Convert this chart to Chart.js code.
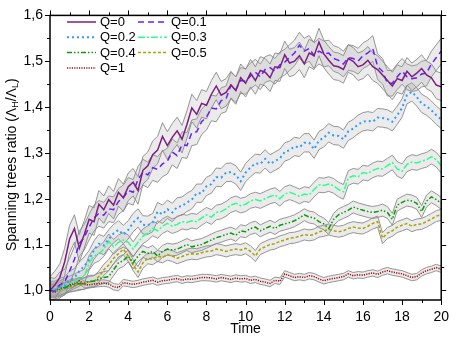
<!DOCTYPE html>
<html>
<head>
<meta charset="utf-8">
<script src="https://cdn.jsdelivr.net/npm/chart.js@4.4.1/dist/chart.umd.min.js"></script>
<style>
  html, body { margin: 0; padding: 0; background: #fff; }
  #wrap { width: 458px; height: 340px; }
</style>
</head>
<body>
<div id="wrap"><canvas id="chart"></canvas></div>
<script>
// time axis (step 0.25)
const time = [
  0, 0.25, 0.5, 0.75, 1, 1.25, 1.5, 1.75, 2, 2.25, 2.5, 2.75, 3, 3.25, 3.5, 3.75,
  4, 4.25, 4.5, 4.75, 5, 5.25, 5.5, 5.75, 6, 6.25, 6.5, 6.75, 7, 7.25, 7.5, 7.75,
  8, 8.25, 8.5, 8.75, 9, 9.25, 9.5, 9.75, 10, 10.25, 10.5, 10.75, 11, 11.25, 11.5, 11.75,
  12, 12.25, 12.5, 12.75, 13, 13.25, 13.5, 13.75, 14, 14.25, 14.5, 14.75, 15, 15.25, 15.5, 15.75,
  16, 16.25, 16.5, 16.75, 17, 17.25, 17.5, 17.75, 18, 18.25, 18.5, 18.75, 19, 19.25, 19.5, 19.75, 20
];

// mean spanning trees ratio per Q
const q0 = [
  1.000, 1.012, 1.028, 1.062, 1.112, 1.135, 1.092, 1.122, 1.155, 1.150, 1.188, 1.176, 1.198, 1.186, 1.214, 1.202,
  1.226, 1.236, 1.218, 1.262, 1.272, 1.296, 1.306, 1.336, 1.316, 1.334, 1.348, 1.330, 1.362, 1.398, 1.384, 1.408,
  1.404, 1.428, 1.446, 1.426, 1.432, 1.448, 1.436, 1.464, 1.452, 1.474, 1.458, 1.480, 1.476, 1.464, 1.488, 1.486,
  1.514, 1.496, 1.500, 1.512, 1.494, 1.518, 1.512, 1.542, 1.516, 1.502, 1.490, 1.488, 1.482, 1.506, 1.500, 1.488,
  1.492, 1.502, 1.488, 1.482, 1.470, 1.458, 1.446, 1.462, 1.458, 1.478, 1.466, 1.474, 1.484, 1.470, 1.464, 1.448, 1.444
];
const q01 = [
  1.000, 0.998, 1.012, 1.018, 1.042, 1.068, 1.102, 1.116, 1.138, 1.158, 1.168, 1.164, 1.178, 1.176, 1.194, 1.202,
  1.218, 1.214, 1.242, 1.258, 1.252, 1.268, 1.264, 1.276, 1.282, 1.302, 1.294, 1.318, 1.316, 1.344, 1.346, 1.368,
  1.378, 1.398, 1.396, 1.414, 1.418, 1.448, 1.438, 1.458, 1.456, 1.468, 1.476, 1.466, 1.482, 1.486, 1.478, 1.492,
  1.498, 1.508, 1.518, 1.535, 1.522, 1.528, 1.512, 1.522, 1.516, 1.518, 1.506, 1.502, 1.494, 1.508, 1.506, 1.500,
  1.512, 1.518, 1.528, 1.488, 1.478, 1.452, 1.452, 1.466, 1.478, 1.466, 1.462, 1.464, 1.472, 1.474, 1.494, 1.508, 1.522
];
const q02 = [
  1.000, 1.000, 1.006, 1.010, 1.022, 1.028, 1.042, 1.053, 1.067, 1.088, 1.102, 1.098, 1.112, 1.124, 1.132, 1.122,
  1.132, 1.148, 1.158, 1.143, 1.142, 1.148, 1.172, 1.166, 1.177, 1.170, 1.182, 1.184, 1.192, 1.198, 1.212, 1.212,
  1.227, 1.232, 1.247, 1.246, 1.257, 1.258, 1.252, 1.238, 1.257, 1.268, 1.277, 1.276, 1.287, 1.276, 1.282, 1.288,
  1.302, 1.306, 1.314, 1.312, 1.322, 1.322, 1.308, 1.327, 1.333, 1.344, 1.338, 1.337, 1.330, 1.347, 1.353, 1.362,
  1.368, 1.370, 1.368, 1.377, 1.376, 1.374, 1.368, 1.382, 1.398, 1.427, 1.433, 1.422, 1.408, 1.402, 1.393, 1.382, 1.373
];
const q03 = [
  1.000, 1.000, 1.005, 1.010, 1.015, 1.020, 1.025, 1.030, 1.060, 1.075, 1.080, 1.090, 1.107, 1.095, 1.105, 1.110,
  1.105, 1.090, 1.105, 1.118, 1.125, 1.135, 1.130, 1.140, 1.146, 1.140, 1.144, 1.150, 1.148, 1.152, 1.150, 1.158,
  1.165, 1.160, 1.170, 1.172, 1.178, 1.186, 1.190, 1.185, 1.188, 1.195, 1.198, 1.195, 1.200, 1.205, 1.208, 1.200,
  1.210, 1.214, 1.210, 1.205, 1.210, 1.208, 1.220, 1.230, 1.229, 1.232, 1.228, 1.220, 1.215, 1.245, 1.250, 1.248,
  1.257, 1.255, 1.262, 1.266, 1.265, 1.272, 1.279, 1.265, 1.260, 1.275, 1.280, 1.278, 1.282, 1.285, 1.292, 1.285, 1.272
];
const q04 = [
  1.000, 1.000, 1.005, 1.005, 1.010, 1.012, 1.015, 1.015, 1.020, 1.020, 1.025, 1.028, 1.030, 1.045, 1.060, 1.065,
  1.075, 1.060, 1.075, 1.085, 1.080, 1.085, 1.075, 1.085, 1.090, 1.088, 1.090, 1.095, 1.100, 1.095, 1.098, 1.100,
  1.105, 1.110, 1.115, 1.118, 1.122, 1.125, 1.120, 1.130, 1.128, 1.135, 1.138, 1.130, 1.135, 1.140, 1.135, 1.142,
  1.145, 1.148, 1.152, 1.158, 1.165, 1.160, 1.158, 1.150, 1.145, 1.135, 1.155, 1.165, 1.170, 1.175, 1.182, 1.178,
  1.175, 1.172, 1.170, 1.172, 1.175, 1.170, 1.155, 1.186, 1.192, 1.197, 1.195, 1.190, 1.172, 1.195, 1.204, 1.198, 1.190
];
const q05 = [
  1.000, 0.998, 1.000, 1.005, 1.008, 1.010, 1.012, 1.015, 1.018, 1.020, 1.030, 1.045, 1.055, 1.070, 1.080, 1.090,
  1.075, 1.055, 1.040, 1.060, 1.070, 1.068, 1.075, 1.072, 1.078, 1.075, 1.070, 1.074, 1.078, 1.080, 1.079, 1.082,
  1.085, 1.086, 1.090, 1.088, 1.085, 1.088, 1.090, 1.088, 1.092, 1.085, 1.075, 1.090, 1.095, 1.100, 1.102, 1.107,
  1.110, 1.114, 1.115, 1.118, 1.122, 1.120, 1.122, 1.128, 1.130, 1.133, 1.130, 1.128, 1.130, 1.135, 1.138, 1.136,
  1.135, 1.140, 1.146, 1.150, 1.114, 1.125, 1.130, 1.138, 1.142, 1.146, 1.140, 1.144, 1.145, 1.150, 1.156, 1.162, 1.165
];
const q1 = [
  0.998, 0.996, 1.003, 1.008, 1.012, 1.015, 1.021, 1.013, 1.012, 1.014, 1.015, 1.016, 1.014, 1.008, 1.006, 1.017,
  1.015, 1.013, 1.015, 1.018, 1.020, 1.022, 1.018, 1.021, 1.022, 1.024, 1.026, 1.022, 1.025, 1.024, 1.026, 1.028,
  1.028, 1.027, 1.025, 1.028, 1.026, 1.024, 1.027, 1.025, 1.026, 1.022, 1.024, 1.020, 1.018, 1.015, 1.022, 1.020,
  1.036, 1.032, 1.028, 1.030, 1.028, 1.032, 1.030, 1.025, 1.021, 1.024, 1.026, 1.028, 1.030, 1.036, 1.032, 1.034,
  1.033, 1.036, 1.038, 1.035, 1.040, 1.043, 1.040, 1.038, 1.036, 1.032, 1.028, 1.030, 1.038, 1.043, 1.046, 1.050, 1.046
];

const seriesNames = ["Q=0", "Q=0.1", "Q=0.2", "Q=0.3", "Q=0.4", "Q=0.5", "Q=1"];
const seriesValues = [q0, q01, q02, q03, q04, q05, q1];
// half-width of the grey error band around each mean
const bandSpread = [0.030, 0.028, 0.020, 0.016, 0.013, 0.012, 0.007];

const xTicks = [0, 2, 4, 6, 8, 10, 12, 14, 16, 18, 20];
const xMinorTicks = [1, 3, 5, 7, 9, 11, 13, 15, 17, 19];
const yTicks = [1.0, 1.1, 1.2, 1.3, 1.4, 1.5, 1.6];
const yMinorTicks = [1.05, 1.15, 1.25, 1.35, 1.45, 1.55];

const lineStyles = [
  { color: "#7d1f82", dash: [], width: 1.5 },
  { color: "#6a1cff", dash: [6, 4], width: 1.5 },
  { color: "#2d9cff", dash: [2, 3], width: 2 },
  { color: "#2cff8c", dash: [7, 2, 2, 2], width: 1.5 },
  { color: "#0a9a0a", dash: [5, 2, 1.5, 2, 1.5, 2], width: 1.5 },
  { color: "#aaa200", dash: [3, 2], width: 1.5 },
  { color: "#981010", dash: [1.2, 1.2], width: 1.5 },
];

const FONT = "'Liberation Sans', Arial, sans-serif";

const toPoints = (vals, off) => vals.map((v, i) => ({ x: time[i], y: v + off }));

const datasets = [];
// bands first (upper then lower filled to upper)
seriesValues.forEach((vals, i) => {
  datasets.push({
    data: toPoints(vals, bandSpread[i]),
    borderColor: "#8a8a8a",
    borderWidth: 0.9,
    pointRadius: 0,
    fill: false,
    order: 2,
  });
  datasets.push({
    data: toPoints(vals, -bandSpread[i]),
    borderColor: "#8a8a8a",
    borderWidth: 0.9,
    backgroundColor: "rgba(165,165,165,0.22)",
    pointRadius: 0,
    fill: "-1",
    order: 2,
  });
});
seriesValues.forEach((vals, i) => {
  datasets.push({
    label: seriesNames[i],
    data: toPoints(vals, 0),
    borderColor: lineStyles[i].color,
    borderDash: lineStyles[i].dash,
    borderWidth: lineStyles[i].width,
    pointRadius: 0,
    fill: false,
    order: 1,
  });
});

// frame, minor ticks, mirrored ticks, legend, y title
const decorPlugin = {
  id: "decor",
  afterDraw(chart) {
    const { ctx, chartArea: a, scales: { x, y } } = chart;
    ctx.save();
    ctx.strokeStyle = "#000";
    ctx.lineWidth = 1.5;
    ctx.strokeRect(a.left, a.top, a.right - a.left, a.bottom - a.top);

    ctx.lineWidth = 1;
    ctx.beginPath();
    const xt = (vals, len) => vals.forEach((v) => {
      const px = Math.round(x.getPixelForValue(v)) + 0.5;
      ctx.moveTo(px, a.bottom); ctx.lineTo(px, a.bottom + len);
      ctx.moveTo(px, a.top); ctx.lineTo(px, a.top - len);
    });
    const yt = (vals, len) => vals.forEach((v) => {
      const py = Math.round(y.getPixelForValue(v)) + 0.5;
      ctx.moveTo(a.left, py); ctx.lineTo(a.left - len, py);
      ctx.moveTo(a.right, py); ctx.lineTo(a.right + len, py);
    });
    xt(xTicks, 5); xt(xMinorTicks, 3);
    yt(yTicks, 5); yt(yMinorTicks, 3);
    ctx.stroke();

    // legend
    ctx.font = "13px " + FONT;
    ctx.textBaseline = "middle";
    ctx.fillStyle = "#000";
    seriesNames.forEach((name, i) => {
      const col = i % 2, row = Math.floor(i / 2);
      const lx = col === 0 ? 67 : 138;
      const ly = 22 + row * 15.3;
      ctx.strokeStyle = lineStyles[i].color;
      ctx.lineWidth = lineStyles[i].width;
      ctx.setLineDash(lineStyles[i].dash);
      ctx.beginPath();
      ctx.moveTo(lx, ly); ctx.lineTo(lx + 29, ly);
      ctx.stroke();
      ctx.setLineDash([]);
      ctx.fillText(name, lx + 33, ly + 0.5);
    });

    // y axis title with subscripts
    const parts = [
      ["Spanning trees ratio (\u039B", 0, 14],
      ["H", 4, 9],
      ["/\u039B", 0, 14],
      ["L", 4, 9],
      [")", 0, 14],
    ];
    let total = 0;
    parts.forEach((p) => { ctx.font = p[2] + "px " + FONT; total += ctx.measureText(p[0]).width; });
    ctx.translate(12, (a.top + a.bottom) / 2 + 7);
    ctx.rotate(-Math.PI / 2);
    let cx = -total / 2;
    ctx.textAlign = "left";
    parts.forEach((p) => {
      ctx.font = p[2] + "px " + FONT;
      ctx.fillText(p[0], cx, p[1]);
      cx += ctx.measureText(p[0]).width;
    });
    ctx.restore();
  },
};

new Chart(document.getElementById("chart"), {
  type: "line",
  data: { datasets },
  options: {
    responsive: true,
    maintainAspectRatio: false,
    animation: false,
    layout: { padding: { top: 10, right: 10, left: 0, bottom: 0 } },
    plugins: { legend: { display: false }, tooltip: { enabled: false } },
    scales: {
      x: {
        type: "linear",
        min: 0,
        max: 20,
        afterFit: (s) => { s.height = 40; },
        afterBuildTicks: (s) => { s.ticks = xTicks.map((v) => ({ value: v })); },
        grid: { display: false, drawTicks: false },
        border: { display: false },
        ticks: { color: "#000", padding: 9, maxRotation: 0, font: { size: 14, family: FONT }, callback: (v) => String(v) },
        title: { display: true, text: "Time", color: "#000", font: { size: 14, family: FONT }, padding: { top: 0, bottom: 2 } },
      },
      y: {
        min: 0.979,
        max: 1.6,
        afterFit: (s) => { s.width = 50; },
        afterBuildTicks: (s) => { s.ticks = yTicks.map((v) => ({ value: v })); },
        grid: { display: false, drawTicks: false },
        border: { display: false },
        ticks: { color: "#000", padding: 7, font: { size: 14, family: FONT }, callback: (v) => v.toFixed(1).replace(".", ",") },
      },
    },
  },
  plugins: [decorPlugin],
});
</script>
</body>
</html>
